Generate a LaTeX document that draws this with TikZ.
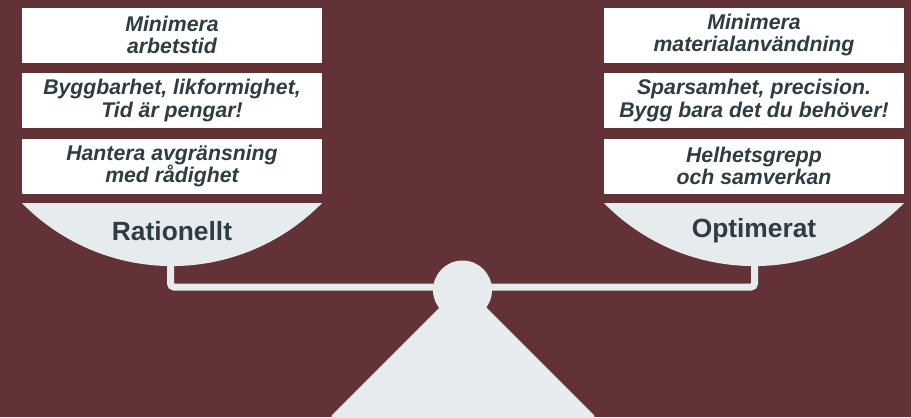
\documentclass[tikz,border=0pt]{standalone}
\usepackage{fontspec}
\setmainfont{Liberation Sans}
\definecolor{vinred}{HTML}{633236}
\definecolor{pale}{HTML}{E6ECEE}
\definecolor{slate}{HTML}{2E3C43}

\begin{document}
\begin{tikzpicture}[x=0.02cm, y=-0.02cm,
    notebox/.style={fill=white, minimum width=6cm, minimum height=1.1cm,
        inner sep=0pt, align=center, text=slate,
        font=\bfseries\itshape\fontsize{12.1}{12.6}\selectfont},
    panbowl/.style={fill=pale},
    panlabel/.style={text=slate, font=\bfseries\fontsize{15}{15}\selectfont},
    beamline/.style={draw=pale, line width=0.14cm, rounded corners=2pt}]
    \fill[vinred] (0,0) rectangle (911,417);
    \useasboundingbox (0,0) rectangle (911,417);

    % vänster skål
    \node[notebox] (r1) at (172,35) {Minimera\\arbetstid};
    \node[notebox] (r2) at (172,100.5) {Byggbarhet, likformighet,\\Tid är pengar!};
    \node[notebox] (r3) at (172,166) {Hantera avgränsning\\med rådighet};
    \fill[panbowl] (22,203) -- (322,203)
        arc[start angle=44.4, end angle=135.6, radius=210] -- cycle;
    \node[panlabel] (rat) at (172,231) {Rationellt};

    % höger skål
    \node[notebox] (o1) at (754,35) {Minimera\\materialanvändning};
    \node[notebox] (o2) at (754,100.5) {Sparsamhet, precision.\\Bygg bara det du behöver!};
    \node[notebox] (o3) at (754,166) {Helhetsgrepp\\och samverkan};
    \fill[panbowl] (604,203) -- (904,203)
        arc[start angle=44.4, end angle=135.6, radius=210] -- cycle;
    \node[panlabel] (opt) at (754,231) {Optimerat};

    % balk och fot
    \draw[beamline] (170.5,262) -- (170.5,287) -- (754.5,287) -- (754.5,262);
    \fill[pale, rounded corners=3pt] (463,284) -- (597,418) -- (329,418) -- cycle;
    \node[circle, fill=pale, minimum size=1.18cm, inner sep=0pt] (piv) at (462.5,290) {};
\end{tikzpicture}
\end{document}
